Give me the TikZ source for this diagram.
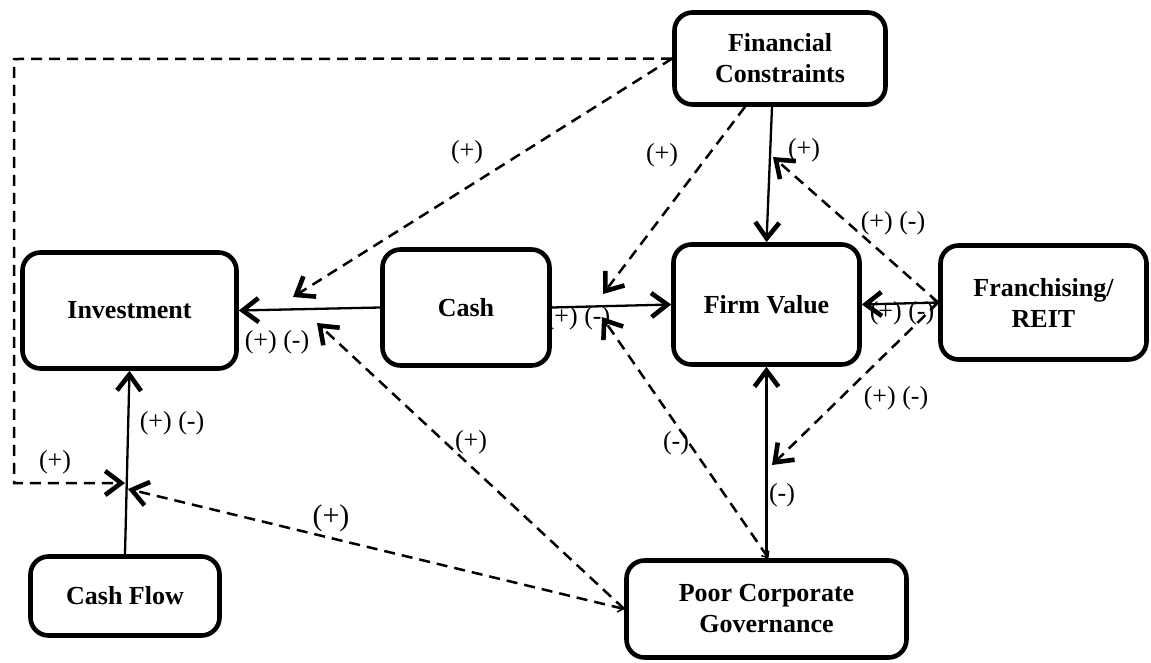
\documentclass[tikz,border=0pt]{standalone}
\usepackage{fontspec}
\setmainfont{Liberation Serif}
\usetikzlibrary{arrows.meta,calc}
\tikzset{
  box/.style={draw, line width=4.6pt, rounded corners=18pt, align=center, inner sep=0pt,
    font=\bfseries\fontsize{26}{31}\selectfont, fill=white},
  lbl/.style={inner sep=0pt, font=\fontsize{26}{30}\selectfont},
  bigtip/.tip={Straight Barb[length=16pt,width=24pt,line width=4.6pt]},
  smalltip/.tip={Straight Barb[length=5pt,width=9pt,line width=1.5pt]},
  conn/.style={line width=2.3pt, -bigtip},
  dsh/.style={line width=2.5pt, dash pattern=on 11pt off 7pt, -bigtip}
}
\begin{document}
\begin{tikzpicture}[x=1pt,y=-1pt]
\useasboundingbox (0,0) rectangle (1151,662);
% boxes
\node[box, minimum width=214pt, minimum height=116pt] (inv) at (129.5,310.5) {Investment};
\node[box, minimum width=167pt, minimum height=116pt] (cash) at (466,307.5) {Cash};
\node[box, minimum width=186pt, minimum height=120pt] (fv) at (766.5,304.5) {Firm Value};
\node[box, minimum width=206pt, minimum height=114pt] (fr) at (1043.5,302.5) {Franchising/\\REIT};
\node[box, minimum width=211pt, minimum height=92pt] (fc) at (780,58.5) {Financial\\Constraints};
\node[box, minimum width=189pt, minimum height=79pt] (cf) at (125,596) {Cash Flow};
\node[box, minimum width=280pt, minimum height=97pt] (pcg) at (766.5,609) {Poor Corporate\\Governance};
% tips of moderating arrows and corners
\coordinate (t1) at (293,297);
\coordinate (t2) at (603,294);
\coordinate (t3) at (125,483);
\coordinate (t4) at (773,157);
\coordinate (t5) at (772,465);
\coordinate (t6) at (602,317);
\coordinate (t7) at (317,323);
\coordinate (t8) at (128,489);
\coordinate (c1) at (14,59);
\coordinate (c2) at (14,483);
% solid connectors
\draw[conn] (cash.west) -- (inv.east);
\draw[conn] (cash.east) -- (fv.west);
\draw[conn] ([xshift=-8pt]fc.south) -- (fv.north);
\draw[conn, smalltip-bigtip] (fr.west) -- (fv.east);
\draw[conn] (pcg.north) -- (fv.south);
\draw[conn] (cf.north) -- (inv.south);
% dashed moderating connectors
\draw[dsh] (fc.west) -- (t1);
\draw[dsh] ([xshift=-35pt]fc.south) -- (t2);
\draw[dsh] (fc.west) -- (c1) -- (c2) -- (t3);
\draw[dsh] (fr.west) -- (t4);
\draw[dsh] (fr.west) -- (t5);
\draw[dsh, smalltip-bigtip] ([xshift=2pt]pcg.north) -- (t6);
\draw[dsh] (pcg.west) -- (t7);
\draw[dsh, smalltip-bigtip] (pcg.west) -- (t8);
% labels
\node[lbl] (l1) at (467,152) {(+)};
\node[lbl] (l2) at (662,155) {(+)};
\node[lbl] (l3) at (804,150) {(+)};
\node[lbl] (l4) at (893,223) {(+) (-)};
\node[lbl] (l5) at (902,313) {(+) (-)};
\node[lbl] (l6) at (896,398) {(+) (-)};
\node[lbl] (l7) at (782,495) {(-)};
\node[lbl] (l8) at (676,443) {(-)};
\node[lbl] (l9) at (578,318) {(+) (-)};
\node[lbl] (l10) at (277,342) {(+) (-)};
\node[lbl] (l11) at (471,442) {(+)};
\node[lbl] (l12) at (172,423) {(+) (-)};
\node[lbl] (l13) at (55,462) {(+)};
\node[lbl, font=\fontsize{30}{34}\selectfont] (l14) at (331,518) {(+)};
\end{tikzpicture}
\end{document}
